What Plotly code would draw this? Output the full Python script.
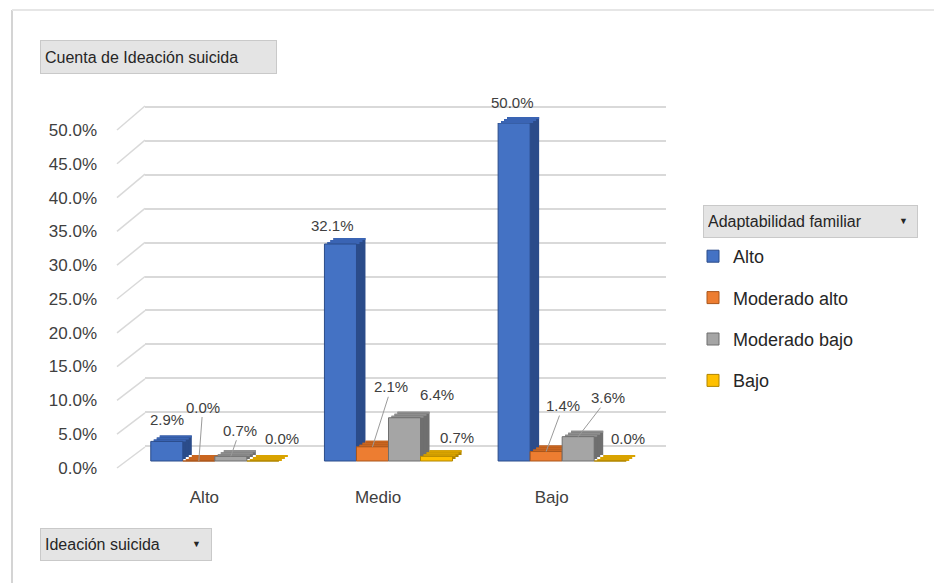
import plotly.graph_objects as go

# ---------------- data ----------------
categories = ["Alto", "Medio", "Bajo"]            # Ideación suicida
series_names = ["Alto", "Moderado alto", "Moderado bajo", "Bajo"]  # Adaptabilidad familiar
vals_alto = [0.029, 0.321, 0.500]
vals_mod_alto = [0.000, 0.021, 0.014]
vals_mod_bajo = [0.007, 0.064, 0.036]
vals_bajo = [0.000, 0.007, 0.000]
y_ticks = [0.0, 0.05, 0.10, 0.15, 0.20, 0.25, 0.30, 0.35, 0.40, 0.45, 0.50]

series_values = [vals_alto, vals_mod_alto, vals_mod_bajo, vals_bajo]

# ---------------- style ----------------
W, H = 934, 583
FONT = "Liberation Sans, Arial, sans-serif"
TXT = "#404040"
front_colors = ["#4472C4", "#ED7D31", "#A5A5A5", "#FFC000"]
top_colors = ["#3A64B4", "#C9651F", "#8E8E8E", "#D9A300"]
side_colors = ["#2B4C8A", "#A9561C", "#6F6F6F", "#B08500"]
GRID = "#d9d9d9"

def px_x(x):
    return x / W

def px_y(y):
    return 1 - y / H

# plot planes (pixel geometry)
grid_dom_x = [px_x(145), px_x(666)]
grid_dom_y = [px_y(447), px_y(106)]
lab_dom_y = [px_y(468), px_y(130)]
BX0, BX1, BY0, BY1 = 128, 649, 461, 123   # front bar plane (value 0 at BY0, 0.5 at BY1)
DX, DY = 9, 6                               # 3D depth offset in px
N_LAYERS = 3
PX_PER_UNIT = (BY0 - BY1) / 0.5
YMIN = -0.02                                # room below zero for the floor faces
BY0_EXT = BY0 - YMIN * PX_PER_UNIT
cap = (DY / N_LAYERS) / PX_PER_UNIT

bw = 32 / 173.5  # bar width in category units

# label offsets (px) relative to bar top centre, and whether a leader line is shown
label_style = {
    (0, 0): (0, -22, False), (1, 0): (4, -54, True), (2, 0): (9, -26, True), (3, 0): (19, -23, False),
    (0, 1): (-8, -19, False), (1, 1): (19, -60, True), (2, 1): (32, -23, False), (3, 1): (20, -19, False),
    (0, 2): (-2, -21, False), (1, 2): (17, -46, True), (2, 2): (30, -39, True), (3, 2): (18, -23, False),
}

fig = go.Figure()
layout_axes = {}

# back grid plane (xy)
fig.add_trace(go.Scatter(x=[0], y=[0], mode="markers", marker=dict(opacity=0),
                         showlegend=False, hoverinfo="skip", xaxis="x", yaxis="y"))
# tick label plane (x2y2)
fig.add_trace(go.Scatter(x=[0], y=[0], mode="markers", marker=dict(opacity=0),
                         showlegend=False, hoverinfo="skip", xaxis="x2", yaxis="y2"))

xs = list(range(len(categories)))

# depth layers, deepest first (x3y3 .. )
for k in range(N_LAYERS):
    t = (N_LAYERS - k) / N_LAYERS
    n = 3 + k
    xa, ya = f"x{n}", f"y{n}"
    layout_axes[f"xaxis{n}"] = dict(domain=[px_x(BX0 + DX * t), px_x(BX1 + DX * t)], anchor=ya,
                                    range=[-0.5, 2.5], visible=False, automargin=False)
    layout_axes[f"yaxis{n}"] = dict(domain=[px_y(BY0_EXT - DY * t), px_y(BY1 - DY * t)], anchor=xa,
                                    range=[YMIN, 0.5], visible=False, automargin=False)
    for j, vals in enumerate(series_values):
        fig.add_trace(go.Bar(
            x=xs, y=vals, width=bw, offset=(j - 2) * bw,
            marker=dict(color=side_colors[j], line=dict(width=0)),
            showlegend=False, hoverinfo="skip", xaxis=xa, yaxis=ya, cliponaxis=False))
        fig.add_trace(go.Bar(
            x=xs, y=[cap] * len(vals), base=[v - cap for v in vals], width=bw, offset=(j - 2) * bw,
            marker=dict(color=top_colors[j], line=dict(width=0)),
            showlegend=False, hoverinfo="skip", xaxis=xa, yaxis=ya, cliponaxis=False))

# front faces
nf = 3 + N_LAYERS
XF, YF = f"x{nf}", f"y{nf}"
for j, vals in enumerate(series_values):
    fig.add_trace(go.Bar(
        x=xs, y=vals, width=bw, offset=(j - 2) * bw, name=series_names[j],
        legendgroup=series_names[j],
        marker=dict(color=front_colors[j], line=dict(width=1, color=side_colors[j])),
        xaxis=XF, yaxis=YF, cliponaxis=False))

layout_axes[f"xaxis{nf}"] = dict(domain=[px_x(BX0), px_x(BX1)], anchor=YF, range=[-0.5, 2.5],
                                 tickvals=[i - 0.06 for i in xs], ticktext=categories,
                                 showgrid=False, zeroline=False, showline=False, ticks="",
                                 ticklabelstandoff=int(round(24 - (BY0_EXT - BY0))),
                                 tickfont=dict(family=FONT, size=17, color=TXT),
                                 automargin=False)
layout_axes[f"yaxis{nf}"] = dict(domain=[px_y(BY0_EXT), px_y(BY1)], anchor=XF, range=[YMIN, 0.5],
                                 visible=False, automargin=False)

annotations = []
for j, vals in enumerate(series_values):
    for i, v in enumerate(vals):
        dx, dy, leader = label_style[(j, i)]
        annotations.append(dict(
            x=i + (j - 1.5) * bw, y=v, xref=XF, yref=YF,
            text=f"{v*100:.1f}%", showarrow=True, ax=dx, ay=dy,
            arrowhead=0, arrowwidth=1, standoff=0,
            arrowcolor="#9a9a9a" if leader else "rgba(0,0,0,0)",
            font=dict(family=FONT, size=15, color=TXT)))

# header boxes
box_bg = "#e4e4e4"
box_border = "#c9c9c9"
annotations.append(dict(x=px_x(40), y=px_y(40), xref="paper", yref="paper", xanchor="left", yanchor="top",
                        text="Cuenta de Ideación suicida", showarrow=False, align="left",
                        width=227, height=24, borderpad=4, bgcolor=box_bg, bordercolor=box_border, borderwidth=1,
                        font=dict(family=FONT, size=16, color="#262626")))
annotations.append(dict(x=px_x(703), y=px_y(205), xref="paper", yref="paper", xanchor="left", yanchor="top",
                        text="Adaptabilidad familiar", showarrow=False, align="left",
                        width=205, height=23, borderpad=4, bgcolor=box_bg, bordercolor=box_border, borderwidth=1,
                        font=dict(family=FONT, size=16, color="#262626")))
annotations.append(dict(x=px_x(903), y=px_y(221), xref="paper", yref="paper", xanchor="center", yanchor="middle",
                        text="▼", showarrow=False, font=dict(family=FONT, size=9, color="#262626")))
annotations.append(dict(x=px_x(40), y=px_y(528), xref="paper", yref="paper", xanchor="left", yanchor="top",
                        text="Ideación suicida", showarrow=False, align="left",
                        width=162, height=23, borderpad=4, bgcolor=box_bg, bordercolor=box_border, borderwidth=1,
                        font=dict(family=FONT, size=16, color="#262626")))
annotations.append(dict(x=px_x(196), y=px_y(544), xref="paper", yref="paper", xanchor="center", yanchor="middle",
                        text="▼", showarrow=False, font=dict(family=FONT, size=9, color="#262626")))

# connector lines from tick labels to back grid
shapes = []
for t in y_ticks:
    y0 = lab_dom_y[0] + t / 0.5 * (lab_dom_y[1] - lab_dom_y[0])
    y1 = grid_dom_y[0] + t / 0.5 * (grid_dom_y[1] - grid_dom_y[0])
    shapes.append(dict(type="line", xref="paper", yref="paper", x0=px_x(117), y0=y0, x1=grid_dom_x[0], y1=y1,
                       line=dict(color=GRID, width=1.5), layer="below"))
# outer frame
shapes.append(dict(type="line", xref="paper", yref="paper", x0=px_x(12), y0=px_y(10), x1=px_x(12), y1=0,
                   line=dict(color="#d4d4d4", width=2)))
shapes.append(dict(type="line", xref="paper", yref="paper", x0=px_x(12), y0=px_y(10), x1=1, y1=px_y(10),
                   line=dict(color="#e6e6e6", width=2)))

fig.update_layout(
    width=W, height=H, autosize=False,
    margin=dict(l=0, r=0, t=0, b=0, pad=0, autoexpand=False),
    paper_bgcolor="white", plot_bgcolor="rgba(0,0,0,0)",
    barmode="overlay",
    font=dict(family=FONT, color=TXT),
    xaxis=dict(domain=grid_dom_x, anchor="y", range=[0, 1], visible=False, automargin=False),
    yaxis=dict(domain=grid_dom_y, anchor="x", range=[-0.002, 0.502], tickvals=y_ticks,
               showticklabels=False, showgrid=True, gridcolor=GRID, gridwidth=2,
               zeroline=False, showline=False, ticks="", automargin=False),
    xaxis2=dict(domain=[px_x(117), px_x(640)], anchor="y2", range=[0, 1], visible=False, automargin=False),
    yaxis2=dict(domain=lab_dom_y, anchor="x2", range=[-0.0005, 0.5005], tickvals=y_ticks,
                tickformat=".1%", showgrid=False, zeroline=False, showline=False, ticks="",
                ticklabelstandoff=19, tickfont=dict(family=FONT, size=17, color=TXT), automargin=False),
    legend=dict(x=px_x(693), y=px_y(238), xanchor="left", yanchor="top",
                traceorder="grouped", tracegroupgap=15,
                font=dict(family=FONT, size=18, color="#262626"), bgcolor="rgba(0,0,0,0)"),
    annotations=annotations,
    shapes=shapes,
    showlegend=True,
    **layout_axes,
)

fig.write_html("out.html")
